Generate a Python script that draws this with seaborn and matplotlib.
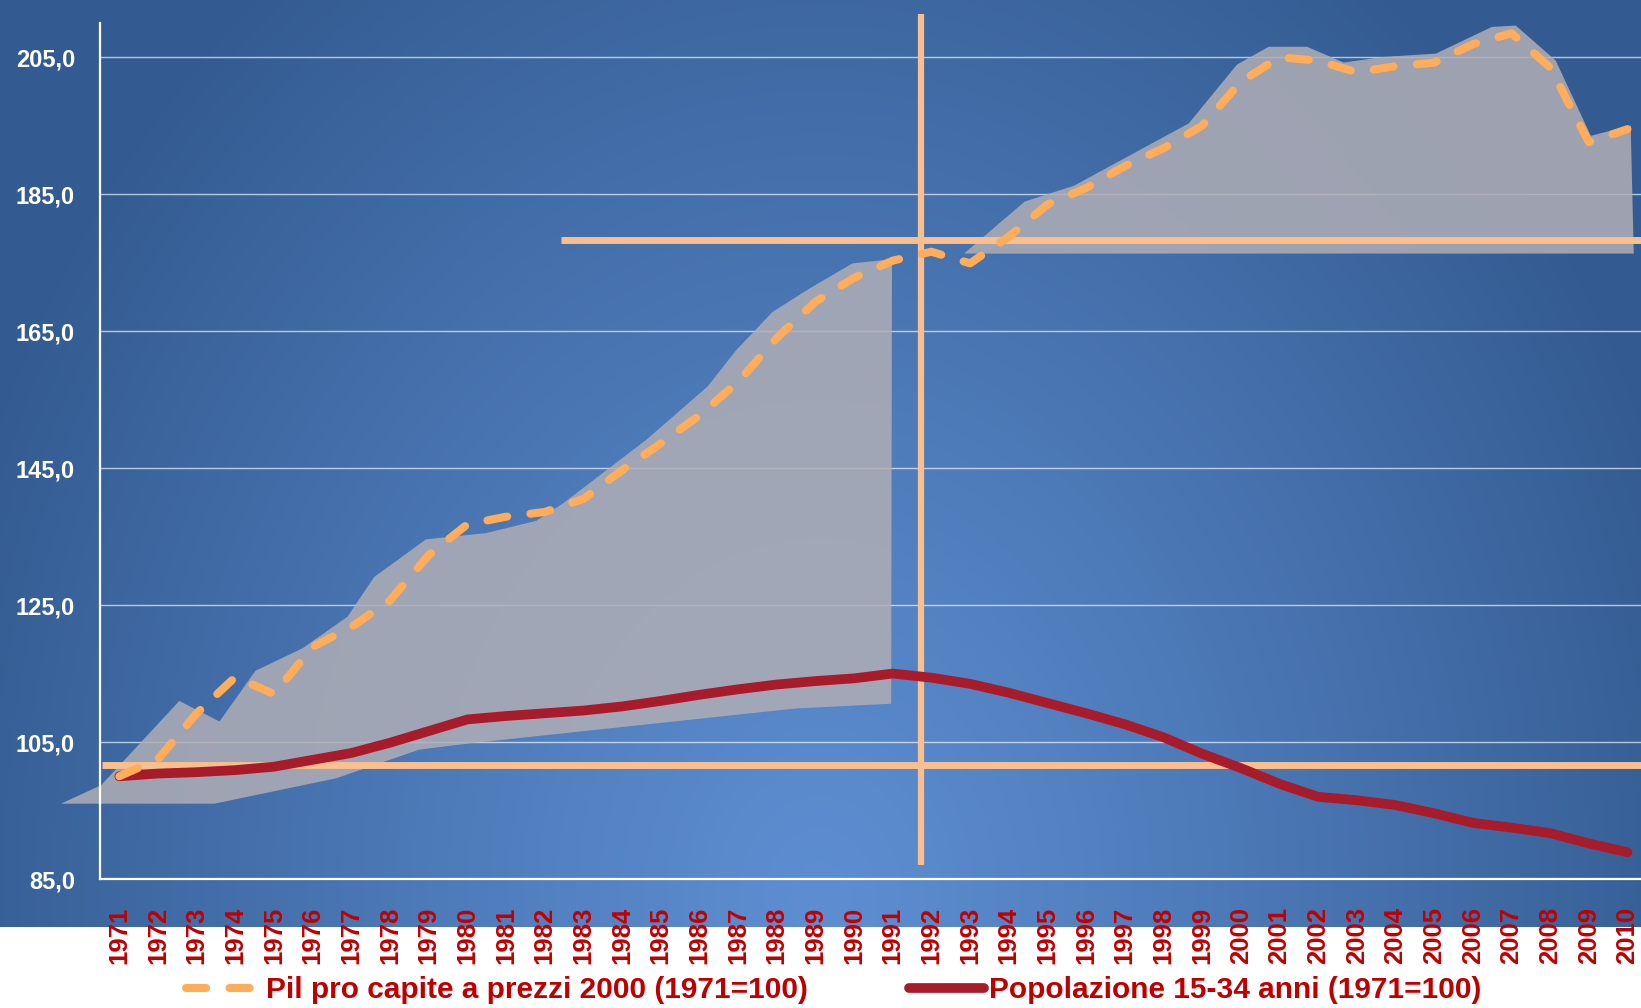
import numpy as np
import pandas as pd
import seaborn as sns
import matplotlib.pyplot as plt
from matplotlib.lines import Line2D

# dati (1971=100)
anni = list(range(1971, 2011))
pil = [100.0, 102.5, 109.2, 114.5, 112.0, 118.9, 121.8, 125.7, 132.3, 136.8,
       137.9, 138.6, 140.5, 144.7, 148.6, 152.7, 157.6, 164.0, 169.3, 172.8,
       175.3, 176.6, 174.9, 178.8, 183.5, 185.9, 189.1, 191.7, 195.0, 201.4,
       205.0, 204.5, 202.8, 203.7, 204.2, 206.9, 208.5, 203.5, 192.6, 194.5]
popolazione = [100.0, 100.4, 100.6, 100.9, 101.4, 102.4, 103.4, 104.9, 106.6, 108.3,
               108.8, 109.2, 109.6, 110.2, 111.0, 111.9, 112.7, 113.4, 113.9, 114.3,
               115.0, 114.4, 113.5, 112.2, 110.7, 109.2, 107.6, 105.7, 103.3, 101.2,
               98.9, 97.0, 96.5, 95.8, 94.6, 93.2, 92.5, 91.7, 90.2, 88.9]

# aree grigie di evidenziazione
area1_x_sup = [1969.49, 1970.53, 1972.55, 1973.59, 1974.52, 1975.74, 1976.90, 1977.59,
               1978.93, 1980.48, 1981.78, 1982.46, 1984.62, 1986.21, 1986.95, 1987.89,
               1988.84, 1989.96, 1990.98]
area1_y_sup = [96.0, 98.7, 111.0, 108.0, 115.4, 118.7, 123.3, 129.1,
               134.6, 135.5, 137.3, 139.8, 149.1, 156.9, 162.2, 167.8,
               171.2, 174.9, 175.5]
area1_x_inf = [1969.49, 1973.46, 1976.60, 1978.76, 1980.05, 1981.86, 1988.48, 1990.96]
area1_y_inf = [96.0, 96.0, 99.7, 103.9, 104.8, 105.9, 109.9, 110.6]

area2_x = [1992.83, 1994.40, 1995.67, 1998.64, 1999.89, 2000.71, 2001.70, 2002.65,
           2003.64, 2005.03, 2006.48, 2007.10, 2008.13, 2009.04, 2010.07, 2010.15]
area2_y_sup = [176.4, 184.0, 186.3, 195.4, 204.0, 206.6, 206.6, 204.3,
               205.1, 205.6, 209.5, 209.7, 204.6, 193.6, 195.1, 176.4]
area2_base = 176.4

# linee di riferimento
rif_orizz_y = [178.3, 101.6]
rif_orizz_da = [1982.42, 1970.55]
rif_vert_x = 1991.73
rif_vert_y = (87.0, 211.3)

etichetta_pil = "Pil pro capite a prezzi 2000 (1971=100)"
etichetta_pop = "Popolazione 15-34 anni (1971=100)"

df = pd.DataFrame({"anno": anni, "pil": pil, "pop": popolazione})

sns.set_theme(style="white")
plt.rcParams['font.family'] = ['Liberation Sans', 'DejaVu Sans']
plt.rcParams['font.weight'] = 'bold'

W, H = 1641, 1008
fig = plt.figure(figsize=(W / 100, H / 100), dpi=100)
fig.patch.set_facecolor("white")

# sfondo blu sfumato
bg = fig.add_axes([0, 1 - 927 / H, 1, 927 / H], zorder=-5)
yy, xx = np.mgrid[0:927, 0:W]
d = np.sqrt(((xx - 820) / 900.0) ** 2 + ((yy - 900) / 1150.0) ** 2)
t = np.clip(d, 0, 1) ** 1.1
interno = np.array([94, 142, 210]) / 255
esterno = np.array([52, 92, 146]) / 255
img = interno[None, None, :] * (1 - t[..., None]) + esterno[None, None, :] * t[..., None]
bg.imshow(img, aspect="auto", extent=(0, 1, 0, 1))
bg.axis("off")

ax = fig.add_axes([100 / W, 1 - 879 / H, (W - 100) / W, (879 - 23) / H])
ax.patch.set_alpha(0)
x_max = 1970.5 + (W - 100) / 38.67
ax.set_xlim(1970.5, x_max)
ax.set_ylim(85, 210)

# griglia
ax.set_yticks(np.arange(85, 206, 20))
ax.yaxis.grid(True, color="white", alpha=0.65, lw=1.0)
ax.set_axisbelow(True)

grigio = "#B0AEB6"
ax.fill(area1_x_sup + area1_x_inf[::-1], area1_y_sup + area1_y_inf[::-1],
        color=grigio, alpha=0.85, lw=0, zorder=1, clip_on=False)
ax.fill_between(area2_x, area2_base, area2_y_sup, color=grigio, alpha=0.85, lw=0, zorder=1)

pesca = "#F9BF8E"
for y0, x0 in zip(rif_orizz_y, rif_orizz_da):
    ax.hlines(y0, x0, x_max, color=pesca, lw=5, zorder=2)
ax.vlines(rif_vert_x, rif_vert_y[0], rif_vert_y[1], color=pesca, lw=4.5, zorder=2, clip_on=False)

sns.lineplot(data=df, x="anno", y="pop", color="#A81B2B", lw=7, ax=ax, zorder=4)
sns.lineplot(data=df, x="anno", y="pil", color="#FFAD5A", lw=5.8, ax=ax, zorder=5)
linea_pop, linea_pil = ax.get_lines()[-2], ax.get_lines()[-1]
linea_pop.set_solid_capstyle("round")
linea_pil.set_dashes((2.5, 2.9))
linea_pil.set_dash_capstyle("round")

# assi
for s in ["top", "right"]:
    ax.spines[s].set_visible(False)
for s in ["left", "bottom"]:
    ax.spines[s].set_color("white")
    ax.spines[s].set_linewidth(1.6)

ax.set_yticklabels([f"{v:.1f}".replace(".", ",") for v in np.arange(85, 206, 20)])
ax.tick_params(axis="y", colors="white", length=6, width=1.5, pad=12, labelsize=17)

ax.set_xticks(anni)
ax.set_xticklabels([str(a) for a in anni], rotation=90, va="top", ha="center")
ax.set_xticks(np.arange(1970.5, 2010, 1.0), minor=True)
ax.tick_params(axis="x", which="major", length=0, pad=20, labelsize=18.5, labelcolor="#C00000")
ax.tick_params(axis="x", which="minor", length=7, width=1.5, color="white", direction="out")
ax.set_xlabel("")
ax.set_ylabel("")

maniglie = [
    Line2D([], [], color="#FFAD5A", lw=5.8, dashes=(2.5, 2.9), dash_capstyle="round"),
    Line2D([], [], color="#A81B2B", lw=7, solid_capstyle="round"),
]
fig.legend(maniglie, [etichetta_pil, etichetta_pop], loc="center left",
           bbox_to_anchor=(186 / W, 1 - 990 / H), ncol=2, frameon=False,
           prop={"weight": "bold", "size": 21.5}, labelcolor="#C00000",
           handlelength=2.5, handletextpad=0.17, columnspacing=3.4,
           borderpad=0, borderaxespad=0)

fig.savefig("out.png", dpi=100)
